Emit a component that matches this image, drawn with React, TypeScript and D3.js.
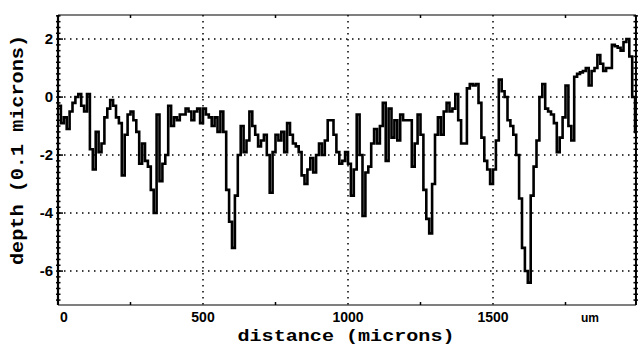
import React from "react";
import * as d3 from "d3";

// depth (0.1 microns) sampled every 10 microns
const SAMPLE_STEP = 10;
const depth0to490 = [
  -0.3, -0.9, -0.7, -1.1, -0.5, -0.2, 0.0, 0.1, -0.3, -0.5,
  0.1, -1.8, -2.5, -1.2, -1.9, -1.6, -0.7, -0.4, -0.1, -0.3,
  -0.7, -0.9, -2.7, -1.3, -0.6, -0.5, -0.8, -1.2, -2.3, -1.6,
  -2.2, -2.4, -3.2, -4.0, -0.6, -2.9, -2.3, -2.0, -0.3, -1.0,
  -0.7, -0.8, -0.6, -0.6, -0.4, -0.5, -0.8, -0.5, -0.4, -0.9,
];
const depth500to990 = [
  -0.4, -0.6, -0.7, -1.0, -0.7, -1.2, -0.5, -1.2, -3.2, -4.3,
  -5.2, -3.4, -2.0, -1.0, -1.9, -1.5, -0.5, -1.0, -1.3, -1.7,
  -1.5, -1.3, -2.0, -3.3, -1.9, -1.3, -1.5, -1.2, -1.9, -0.9,
  -1.3, -1.6, -1.7, -1.9, -2.7, -3.0, -2.5, -2.1, -2.6, -2.0,
  -1.6, -2.0, -1.5, -0.8, -0.8, -1.3, -1.9, -2.3, -2.2, -1.9,
];
const depth1000to1490 = [
  -2.3, -3.4, -2.5, -0.6, -2.0, -4.1, -2.6, -2.4, -1.6, -1.1,
  -1.6, -1.0, -0.2, -2.2, -0.4, -1.4, -0.8, -1.5, -0.6, -0.8,
  -0.8, -0.8, -2.4, -1.6, -0.6, -1.3, -3.2, -4.2, -4.7, -3.0,
  -1.3, -0.7, -1.3, -0.5, -0.2, -0.5, -0.4, 0.1, -0.8, -1.6,
  -1.6, 0.3, 0.45, 0.4, 0.45, -0.2, -1.4, -2.2, -2.5, -3.0,
];
const depth1500to1990 = [
  -2.5, -1.5, 0.6, 0.2, 0.0, -0.8, -1.0, -1.3, -2.0, -3.5,
  -5.2, -6.0, -6.4, -3.4, -2.4, -1.5, 0.0, 0.45, -0.4, -0.5,
  -0.6, -0.9, -1.9, -1.4, -0.7, 0.4, -1.0, -1.5, 0.7, 0.8,
  0.85, 0.9, 1.0, 0.4, 0.9, 1.0, 1.45, 1.15, 0.9, 1.0,
  1.0, 1.8, 1.75, 1.7, 1.6, 1.9, 2.0, 1.4, 0.0, -1.2,
];

const xTicks = [0, 500, 1000, 1500];
const xTickLabels = ["0", "500", "1000", "1500"];
const unitLabel = "um";
const yTicks = [2, 0, -2, -4, -6];
const xGrid = [500, 1000, 1500];
const yGrid = [2, 0, -2, -4, -6];
const X_MAX = 1993;

export default function App() {
  const W = 642, H = 345;
  const x = d3.scaleLinear().domain([0, 2000]).range([58, 638]);
  const y = d3.scaleLinear().domain([-7.17, 2.83]).range([305, 15]);

  const depths = [...depth0to490, ...depth500to990, ...depth1000to1490, ...depth1500to1990];
  const pts: [number, number][] = depths.map((v, i) => [i * SAMPLE_STEP, v]);
  pts.push([X_MAX, depths[depths.length - 1]]);

  const line = d3
    .line<[number, number]>()
    .x((d) => x(d[0]))
    .y((d) => y(d[1]))
    .curve(d3.curveStepAfter);

  const left = x(0), right = x(X_MAX), top = y(2.83), bottom = y(-7.17);
  const yMinor = d3.range(-7.0, 2.81, 0.2);
  const xMinor = [250, 750, 1250, 1750];
  const tickFont = "Liberation Sans, Arial, sans-serif";
  const titleFont = "Liberation Mono, Courier New, monospace";

  return (
    <svg
      width={W}
      height={H}
      style={{ position: "absolute", left: 0, top: 0, background: "#fff" }}
    >
      <rect x={0} y={0} width={W} height={H} fill="#fff" />
      {/* grid */}
      {xGrid.map((g) => (
        <line key={"gx" + g} x1={x(g)} x2={x(g)} y1={top} y2={bottom}
          stroke="#000" strokeWidth={1.5} strokeDasharray="1.5 4.5" />
      ))}
      {yGrid.map((g) => (
        <line key={"gy" + g} x1={left} x2={right} y1={y(g)} y2={y(g)}
          stroke="#000" strokeWidth={1.5} strokeDasharray="1.5 4.5" />
      ))}
      {/* frame */}
      <line x1={left} x2={right} y1={top} y2={top} stroke="#000" strokeWidth={1.2} />
      <line x1={left} x2={right} y1={bottom} y2={bottom} stroke="#000" strokeWidth={1.2} />
      <line x1={left} x2={left} y1={top} y2={bottom} stroke="#000" strokeWidth={2.2} />
      <line x1={right} x2={right} y1={top} y2={bottom} stroke="#000" strokeWidth={2} />
      {yMinor.map((v, i) => (
        <g key={"ym" + i}>
          <line x1={left - 2} x2={left + 2.5} y1={y(v)} y2={y(v)} stroke="#000" strokeWidth={1.5} />
          <line x1={right - 2.5} x2={right + 2} y1={y(v)} y2={y(v)} stroke="#000" strokeWidth={1.5} />
        </g>
      ))}
      {yTicks.map((v) => (
        <line key={"yt" + v} x1={left} x2={left + 5} y1={y(v)} y2={y(v)} stroke="#000" strokeWidth={1.5} />
      ))}
      {xMinor.map((v) => (
        <g key={"xm" + v}>
          <line x1={x(v)} x2={x(v)} y1={top} y2={top + 3} stroke="#000" strokeWidth={1.5} />
          <line x1={x(v)} x2={x(v)} y1={bottom} y2={bottom - 3} stroke="#000" strokeWidth={1.5} />
        </g>
      ))}
      {/* data */}
      <path d={line(pts) || ""} fill="none" stroke="#000" strokeWidth={2.6} strokeLinejoin="miter" />
      {/* tick labels */}
      {yTicks.map((v) => (
        <text key={"yl" + v} x={53} y={y(v) + 5} textAnchor="end"
          fontFamily={tickFont} fontWeight="bold" fontSize={15}>
          {v}
        </text>
      ))}
      {xTicks.map((v, i) => (
        <text key={"xl" + v} x={i === 0 ? x(v) + 6 : x(v)} y={322} textAnchor="middle"
          fontFamily={tickFont} fontWeight="bold" fontSize={14}>
          {xTickLabels[i]}
        </text>
      ))}
      <text x={590} y={322} textAnchor="middle"
        fontFamily={tickFont} fontWeight="bold" fontSize={12}>
        {unitLabel}
      </text>
      {/* axis titles */}
      <text x={346} y={341} textAnchor="middle" fontFamily={titleFont}
        fontWeight="bold" fontSize={17} textLength={217} lengthAdjust="spacingAndGlyphs">
        distance (microns)
      </text>
      <text transform="translate(23,150) rotate(-90)" textAnchor="middle"
        fontFamily={titleFont} fontWeight="bold" fontSize={18}
        textLength={230} lengthAdjust="spacingAndGlyphs">
        depth (0.1 microns)
      </text>
    </svg>
  );
}
